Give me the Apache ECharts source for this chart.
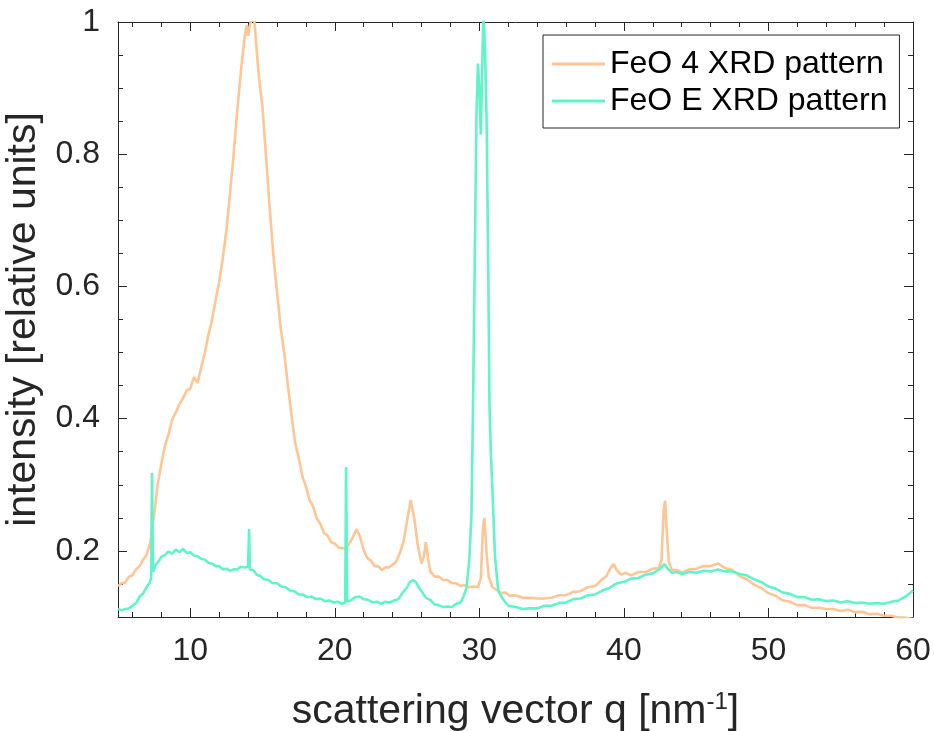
<!DOCTYPE html>
<html><head><meta charset="utf-8">
<script src="https://cdn.jsdelivr.net/npm/echarts@6/dist/echarts.min.js"></script>
<style>html,body{margin:0;padding:0;background:#fff}#c{width:934px;height:731px}</style>
</head><body><div id="c"></div>
<script>
// FeO 4 XRD pattern
const qFeO4 = [5.0,5.25,5.5,5.75,6.0,6.25,6.5,6.75,7.0,7.25,7.5,7.75,8.0,8.25,8.5,8.75,9.0,9.25,9.5,9.75,
  10.0,10.25,10.5,10.75,11.0,11.25,11.5,11.75,12.0,12.25,12.5,12.75,13.0,13.25,13.5,13.75,13.9,14.0,14.1,14.25,
  14.4,14.5,14.6,14.75,15.0,15.25,15.5,15.75,16.0,16.25,16.5,16.75,17.0,17.25,17.5,17.75,18.0,18.25,18.5,18.75,
  19.0,19.25,19.5,19.75,20.0,20.25,20.5,20.75,21.0,21.25,21.5,21.75,22.0,22.25,22.5,22.75,23.0,23.25,23.5,23.75,
  24.0,24.25,24.5,24.75,25.0,25.25,25.5,25.75,26.0,26.15,26.3,26.45,26.6,26.9,27.2,27.5,27.8,28.1,28.4,28.7,
  29.0,29.3,29.6,29.9,30.1,30.25,30.35,30.5,30.65,30.9,31.2,31.5,31.8,32.1,32.5,33.0,33.5,34.0,34.5,35.0,
  35.5,36.0,36.5,37.0,37.5,38.0,38.5,38.8,39.1,39.3,39.5,39.8,40.1,40.5,41.0,41.5,42.0,42.4,42.6,42.75,
  42.85,42.95,43.1,43.3,43.7,44.0,44.5,45.0,45.5,46.0,46.5,47.0,47.5,48.0,48.5,49.0,49.5,50.0,50.5,51.0,
  51.5,52.0,52.5,53.0,53.5,54.0,54.5,55.0,55.5,56.0,56.5,57.0,57.5,58.0,58.5,59.0,59.5,60.0];
const iFeO4 = [0.147,0.151,0.152,0.161,0.163,0.172,0.177,0.187,0.195,0.215,0.256,0.301,0.332,0.359,0.377,0.399,0.409,0.422,0.431,0.443,
  0.445,0.463,0.454,0.477,0.499,0.526,0.549,0.579,0.607,0.643,0.685,0.741,0.799,0.866,0.924,0.976,0.995,0.979,0.993,1.005,
  1.01,0.984,0.956,0.917,0.869,0.794,0.717,0.647,0.591,0.539,0.499,0.451,0.406,0.364,0.341,0.313,0.298,0.277,0.267,0.249,
  0.241,0.227,0.223,0.213,0.211,0.205,0.204,0.204,0.211,0.221,0.233,0.221,0.201,0.189,0.185,0.177,0.177,0.171,0.175,0.175,
  0.179,0.184,0.197,0.214,0.246,0.277,0.249,0.207,0.181,0.191,0.213,0.189,0.169,0.161,0.161,0.156,0.156,0.151,0.151,0.147,
  0.148,0.145,0.146,0.145,0.158,0.235,0.250,0.196,0.161,0.145,0.141,0.136,0.137,0.132,0.133,0.129,0.129,0.128,0.128,0.129,
  0.133,0.133,0.138,0.139,0.145,0.147,0.157,0.162,0.175,0.180,0.171,0.164,0.167,0.163,0.168,0.168,0.173,0.174,0.185,0.260,
  0.276,0.235,0.185,0.171,0.171,0.167,0.172,0.173,0.177,0.177,0.181,0.174,0.171,0.162,0.157,0.149,0.144,0.136,0.132,0.125,
  0.123,0.118,0.118,0.114,0.114,0.112,0.112,0.109,0.111,0.107,0.108,0.104,0.105,0.102,0.102,0.099,0.099,0.097];

// FeO E XRD pattern
const qFeOE = [5.0,5.25,5.5,5.75,6.0,6.25,6.5,6.75,7.0,7.2,7.3,7.35,7.42,7.6,7.8,8.0,8.25,8.5,8.75,9.0,
  9.25,9.5,9.75,10.0,10.25,10.5,10.75,11.0,11.25,11.5,11.75,12.0,12.25,12.5,12.75,13.0,13.25,13.5,13.75,14.0,
  14.07,14.12,14.35,14.6,14.85,15.1,15.4,15.7,16.0,16.3,16.6,16.9,17.2,17.5,17.8,18.1,18.4,18.7,19.0,19.3,
  19.6,19.9,20.2,20.5,20.72,20.78,20.85,21.1,21.4,21.7,22.0,22.3,22.6,22.9,23.2,23.5,23.8,24.1,24.4,24.7,
  25.0,25.2,25.4,25.6,25.8,26.0,26.3,26.6,26.9,27.2,27.5,27.8,28.1,28.4,28.7,28.9,29.1,29.3,29.45,29.57,
  29.7,29.8,29.9,30.0,30.1,30.2,30.28,30.4,30.5,30.62,30.7,30.8,30.92,31.08,31.3,31.6,32.0,32.5,33.0,33.5,
  34.0,34.5,35.0,35.5,36.0,36.5,37.0,37.5,38.0,38.5,39.0,39.5,40.0,40.5,41.0,41.5,42.0,42.5,42.8,43.0,
  43.3,43.7,44.0,44.5,45.0,45.5,46.0,46.5,47.0,47.5,48.0,48.5,49.0,49.5,50.0,50.5,51.0,51.5,52.0,52.5,
  53.0,53.5,54.0,54.5,55.0,55.5,56.0,56.5,57.0,57.5,58.0,58.5,59.0,59.5,60.0];
const iFeOE = [0.112,0.110,0.112,0.113,0.117,0.121,0.131,0.136,0.146,0.152,0.160,0.318,0.168,0.179,0.184,0.191,0.194,0.199,0.196,0.202,
  0.198,0.203,0.197,0.198,0.193,0.192,0.188,0.187,0.182,0.181,0.177,0.177,0.172,0.173,0.170,0.172,0.172,0.176,0.175,0.176,
  0.233,0.172,0.171,0.164,0.162,0.157,0.156,0.151,0.151,0.146,0.145,0.140,0.139,0.134,0.134,0.130,0.131,0.127,0.128,0.124,
  0.125,0.122,0.123,0.120,0.122,0.327,0.124,0.125,0.130,0.131,0.127,0.126,0.122,0.123,0.120,0.123,0.122,0.125,0.127,0.137,
  0.145,0.153,0.156,0.153,0.145,0.139,0.129,0.126,0.119,0.118,0.115,0.116,0.115,0.120,0.122,0.131,0.143,0.185,0.253,0.433,
  0.673,0.860,0.937,0.900,0.830,0.930,1.02,0.950,0.853,0.613,0.420,0.345,0.283,0.192,0.140,0.128,0.117,0.115,0.112,0.113,
  0.113,0.117,0.117,0.121,0.122,0.127,0.128,0.133,0.134,0.140,0.144,0.151,0.153,0.158,0.159,0.164,0.166,0.173,0.180,0.174,
  0.167,0.168,0.165,0.168,0.167,0.170,0.169,0.172,0.169,0.169,0.165,0.163,0.157,0.153,0.146,0.143,0.137,0.135,0.130,0.130,
  0.126,0.127,0.124,0.125,0.122,0.124,0.121,0.122,0.120,0.121,0.120,0.123,0.125,0.131,0.140];

const seriesNames = ['FeO 4 XRD pattern', 'FeO E XRD pattern'];
const xMajorTicks = [10,20,30,40,50,60];
const xMinorTicks = [6,8,12,14,16,18,22,24,26,28,32,34,36,38,42,44,46,48,52,54,56,58];
const yMajorTicks = [0.2,0.4,0.6,0.8,1];
const yMinorTicks = [0.15,0.25,0.3,0.35,0.45,0.5,0.55,0.65,0.7,0.75,0.85,0.9,0.95];

const AX = '#262626';
const FONT = '"Liberation Sans", Arial, Helvetica, sans-serif';
const C1 = '#FFC594', C2 = '#60F5C8';

function mkAxis(pos, min, max, ticks, len, withLine, labelMargin, extra) {
  return Object.assign({
    type: 'value', position: pos, min: min, max: max,
    axisLine: { show: withLine, onZero: false, lineStyle: { color: AX, width: 1 } },
    axisTick: { show: true, inside: true, length: len, customValues: ticks, lineStyle: { color: AX, width: 1 } },
    axisLabel: labelMargin != null ? { show: true, customValues: ticks, fontSize: 32, color: AX, fontFamily: FONT, margin: labelMargin } : { show: false },
    splitLine: { show: false }
  }, extra || {});
}

const chart = echarts.init(document.getElementById('c'), null, { renderer: 'canvas' });
chart.setOption({
  animation: false,
  backgroundColor: '#fff',
  textStyle: { fontFamily: FONT },
  grid: { left: 118, top: 22, right: 21, bottom: 114, containLabel: false, outerBoundsMode: 'none' },
  legend: {
    orient: 'vertical', left: 543, top: 35,
    padding: [13, 12, 11, 9], itemGap: 5, itemWidth: 53, itemHeight: 3, icon: 'rect',
    borderColor: AX, borderWidth: 1, backgroundColor: '#fff',
    textStyle: { fontSize: 32, color: '#000', fontFamily: FONT },
    data: seriesNames
  },
  xAxis: [
    mkAxis('bottom', 5, 60, xMajorTicks, 9, true, 18, {
      name: 'scattering vector q [nm{sup|-1}]', nameLocation: 'middle', nameGap: 73,
      nameTextStyle: { fontSize: 41, color: AX, fontFamily: FONT, lineHeight: 44,
        rich: { sup: { fontSize: 24, lineHeight: 44, verticalAlign: 'top', color: AX, fontFamily: FONT } } }
    }),
    mkAxis('bottom', 5, 60, xMinorTicks, 5, false, null),
    mkAxis('top', 5, 60, xMajorTicks, 9, true, null),
    mkAxis('top', 5, 60, xMinorTicks, 5, false, null)
  ],
  yAxis: [
    mkAxis('left', 0.1, 1, yMajorTicks, 9, true, 18, {
      name: 'intensity [relative units]', nameLocation: 'middle', nameGap: 67,
      nameTextStyle: { fontSize: 41, color: AX, fontFamily: FONT }
    }),
    mkAxis('left', 0.1, 1, yMinorTicks, 5, false, null),
    mkAxis('right', 0.1, 1, yMajorTicks, 9, true, null),
    mkAxis('right', 0.1, 1, yMinorTicks, 5, false, null)
  ],
  series: [
    { name: seriesNames[0], type: 'line', xAxisIndex: 0, yAxisIndex: 0, symbol: 'none', clip: true,
      lineStyle: { color: C1, width: 2.6 }, itemStyle: { color: C1 },
      data: qFeO4.map((q, i) => [q, iFeO4[i]]) },
    { name: seriesNames[1], type: 'line', xAxisIndex: 0, yAxisIndex: 0, symbol: 'none', clip: true,
      lineStyle: { color: C2, width: 2.6 }, itemStyle: { color: C2 },
      data: qFeOE.map((q, i) => [q, iFeOE[i]]) }
  ]
});
</script></body></html>
